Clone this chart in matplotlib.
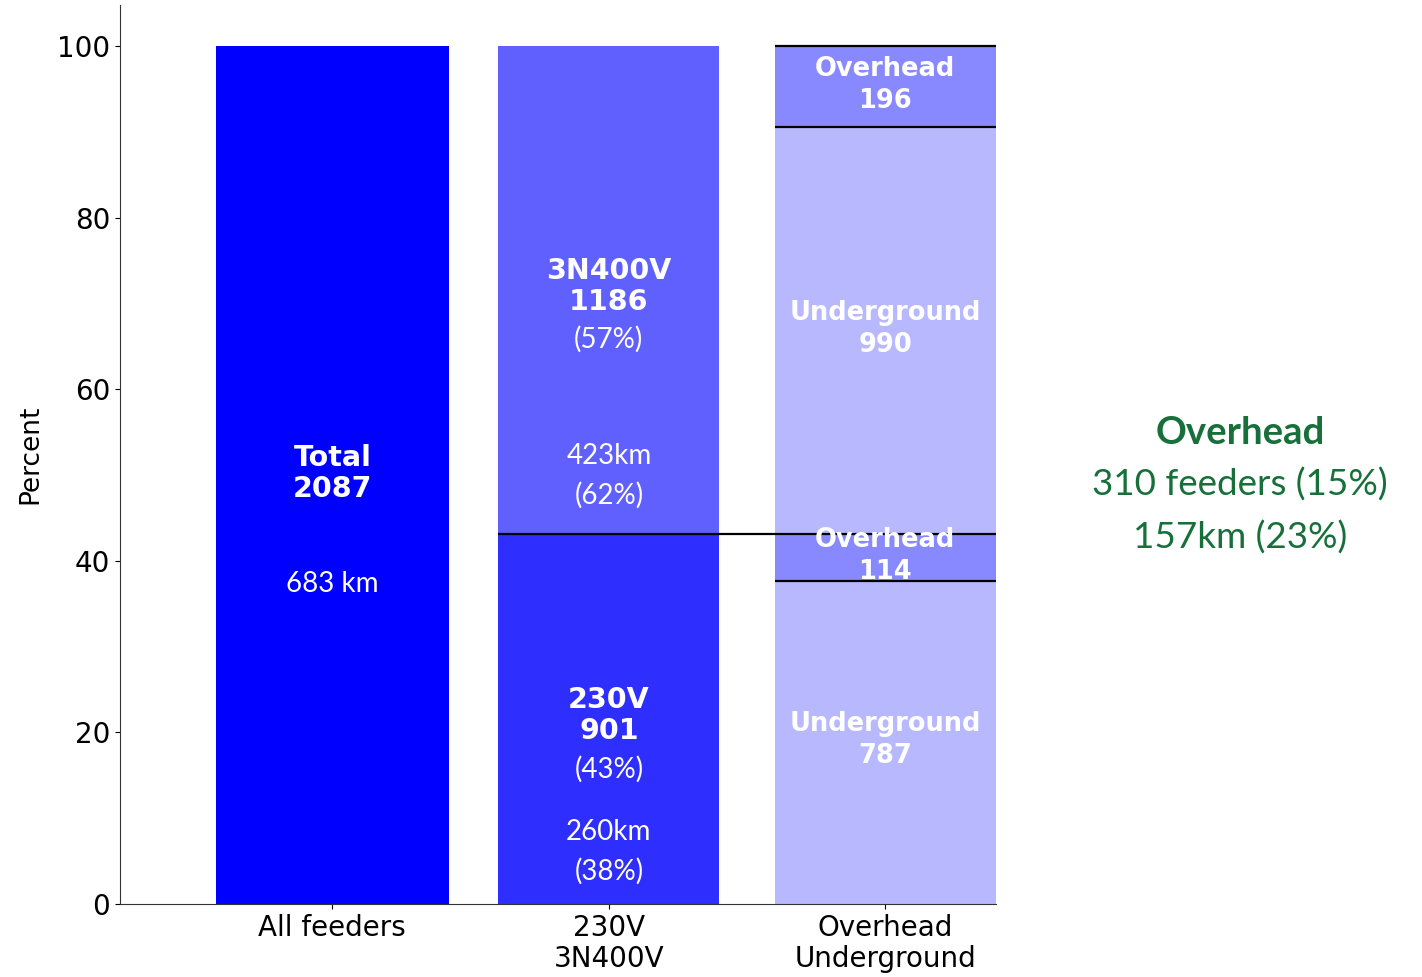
import numpy as np
import matplotlib
matplotlib.use("Agg")
from matplotlib import pyplot as plt

# feeder counts
total = 2087
n_230 = 901
n_400 = 1186
oh_230 = 114
ug_230 = 787
oh_400 = 196
ug_400 = 990

categories = ['All feeders', '230V\n3N400V', 'Overhead\nUnderground']
km_labels = ['683 km', '260km', '423km']
km_shares = ['(38%)', '(62%)']
share_labels = ['(43%)', '(57%)']
side_lines = ['Overhead', '310 feeders (15%)', '157km (23%)']

pct = lambda v: 100.0 * v / total

fig = plt.figure(figsize=(14.22, 9.77), dpi=100)
ax = fig.add_axes([0.0844, 0.0747, 0.616, 0.920])

x = np.arange(len(categories))
w = 0.8

# bar 1
ax.bar(x[0], 100, width=0.845, color='#0000ff')
# bar 2
ax.bar(x[1], pct(n_230), width=w, color='#2e2eff')
ax.bar(x[1], pct(n_400), width=w, bottom=pct(n_230), color='#6060ff')
# bar 3
stack = [ug_230, oh_230, ug_400, oh_400]
cols = ['#b8b8ff', '#8888ff', '#b8b8ff', '#8888ff']
bottom = 0
for v, c in zip(stack, cols):
    ax.bar(x[2], pct(v), width=w, bottom=bottom, color=c)
    bottom += pct(v)

# separators
l3, r3 = x[2] - w / 2, x[2] + w / 2
ax.hlines([pct(ug_230), pct(ug_230 + oh_230 + ug_400), 100], l3, r3, color='black', lw=1.6, zorder=3)
ax.hlines(pct(n_230), x[1] - w / 2, r3, color='black', lw=1.6, zorder=3)

bold = dict(color='white', fontweight='bold', ha='center', va='center', fontsize=20.5, linespacing=1.15)
cal = dict(color='white', ha='center', va='center', fontsize=20, family='Lato')

ax.text(x[0], 50.2, 'Total\n%d' % total, **bold)
ax.text(x[0], 37.3, km_labels[0], **cal)

ax.text(x[1], 72.0, '3N400V\n%d' % n_400, **bold)
ax.text(x[1], 65.9, share_labels[1], **cal)
ax.text(x[1], 52.2, km_labels[2], **cal)
ax.text(x[1], 47.7, km_shares[1], **cal)
ax.text(x[1], 22.0, '230V\n%d' % n_230, **bold)
ax.text(x[1], 15.7, share_labels[0], **cal)
ax.text(x[1], 8.4, km_labels[1], **cal)
ax.text(x[1], 3.8, km_shares[0], **cal)

b3 = dict(bold, fontsize=18.5, linespacing=1.3)
ax.text(x[2], 95.5, 'Overhead\n%d' % oh_400, **b3)
ax.text(x[2], 67.1, 'Underground\n%d' % ug_400, **b3)
ax.text(x[2], 40.6, 'Overhead\n%d' % oh_230, **b3)
ax.text(x[2], 19.1, 'Underground\n%d' % ug_230, **b3)

ax.set_xlim(-0.768, 2.4)
ax.set_ylim(0, 104.8)
ax.set_xticks(x)
ax.set_xticklabels(categories, fontsize=20, linespacing=1.15)
ax.set_yticks([0, 20, 40, 60, 80, 100])
ax.tick_params(axis='y', labelsize=20)
ax.set_ylabel('Percent', fontsize=19, labelpad=10)
for s in ['top', 'right']:
    ax.spines[s].set_visible(False)
for s in ['left', 'bottom']:
    ax.spines[s].set_color('#333333')

green = '#17703a'
fig.text(0.872, 0.557, side_lines[0], color=green, fontsize=27.5, fontweight='bold',
         family='Lato', ha='center', va='center')
fig.text(0.872, 0.504, side_lines[1], color=green, fontsize=26.5, family='Lato',
         ha='center', va='center')
fig.text(0.872, 0.450, side_lines[2], color=green, fontsize=26.5, family='Lato',
         ha='center', va='center')

plt.savefig('out.png', dpi=100)
